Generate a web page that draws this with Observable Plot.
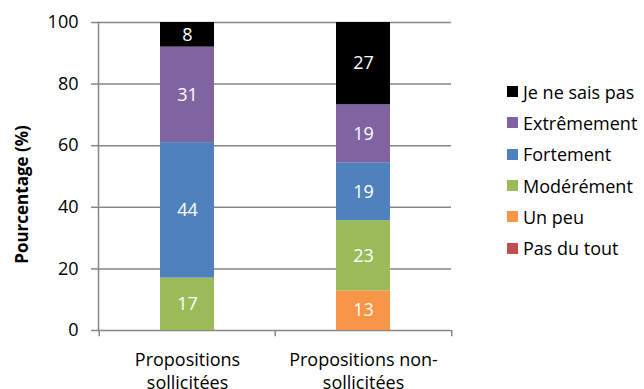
<!DOCTYPE html>
<html>
<head>
<meta charset="utf-8">
<script src="https://cdn.jsdelivr.net/npm/d3@7"></script>
<script src="https://cdn.jsdelivr.net/npm/@observablehq/plot@0.6"></script>
<style>
  body { margin: 0; background: #fff; }
  #chart { position: relative; width: 644px; height: 389px; overflow: hidden; font-family: "Open Sans", sans-serif; color: #000; }
  #chart svg { display: block; }
  .legend { position: absolute; left: 507px; top: 76px; }
  .item { display: flex; align-items: center; height: 31.3px; font-size: 18px; white-space: nowrap; }
  .sw { width: 11px; height: 11px; margin-right: 5px; flex: none; }
</style>
</head>
<body>
<div id="chart"></div>
<script>
// Proposal type (x) and agreement level (stack), in percent
const categories = ["Propositions sollicitées", "Propositions non-sollicitées"];
const tickLabels = ["Propositions\nsollicitées", "Propositions non-\nsollicitées"];
const levels = ["Pas du tout", "Un peu", "Modérément", "Fortement", "Extrêmement", "Je ne sais pas"];
const colors = ["#C0504D", "#F79646", "#9BBB59", "#4F81BD", "#8064A2", "#000000"];
const solicited = [0, 0, 17, 44, 31, 8];
const unsolicited = [0, 13, 23, 19, 19, 27];
const yTicks = [0, 20, 40, 60, 80, 100];

const series = [solicited, unsolicited];
const data = categories.flatMap((cat, i) =>
  levels.map((level, j) => ({cat, level, value: series[i][j]}))
);

const gridColor = "#868686";
const stackOpts = {x: "cat", y: "value", z: "level", order: levels, offset: "normalize"};
const halfStep = (644 - 98 - 193) / categories.length / 2;

const plot = Plot.plot({
  width: 644,
  height: 389,
  marginLeft: 98,
  marginRight: 193,
  marginTop: 22,
  marginBottom: 59,
  style: {fontFamily: "'Open Sans', sans-serif", fontSize: "18px", color: "#000", background: "#fff", overflow: "hidden"},
  x: {type: "band", domain: categories, paddingInner: 0.694, paddingOuter: 0.347},
  y: {domain: [0, 1]},
  color: {domain: levels, range: colors},
  marks: [
    Plot.ruleY(yTicks.map(v => v / 100), {stroke: gridColor, strokeWidth: 1.5}),
    Plot.barY(data, Plot.stackY({...stackOpts, fill: "level"})),
    Plot.text(data, Plot.stackY({
      ...stackOpts,
      filter: d => d.value > 0,
      text: d => String(d.value),
      fill: "white",
      fontSize: 18
    })),
    Plot.frame({anchor: "left", stroke: gridColor, strokeWidth: 1.5}),
    Plot.ruleX(categories, {x: d => d, y1: 0, y2: -0.02, dx: -halfStep, stroke: gridColor, strokeWidth: 1.5}),
    Plot.ruleX(categories.slice(-1), {x: d => d, y1: 0, y2: -0.02, dx: halfStep, stroke: gridColor, strokeWidth: 1.5}),
    Plot.axisY(yTicks.map(v => v / 100), {
      tickFormat: d => String(Math.round(d * 100)),
      tickSize: 7,
      tickPadding: 13,
      stroke: gridColor,
      strokeWidth: 1.5,
      label: null,
      fontSize: 18
    }),
    Plot.axisX({
      tickSize: 0,
      tickPadding: 19,
      tickFormat: d => tickLabels[categories.indexOf(d)],
      lineHeight: 1.28,
      label: null,
      fontSize: 18
    }),
    Plot.text(["Pourcentage (%)"], {
      frameAnchor: "left",
      textAnchor: "middle",
      rotate: -90,
      dx: -76,
      dy: 18,
      fontWeight: "bold",
      fontSize: 17
    })
  ]
});

const chart = document.getElementById("chart");
chart.appendChild(plot);

// Legend, top level first
const legend = document.createElement("div");
legend.className = "legend";
for (let j = levels.length - 1; j >= 0; j--) {
  const item = document.createElement("div");
  item.className = "item";
  const sw = document.createElement("span");
  sw.className = "sw";
  sw.style.background = colors[j];
  const label = document.createElement("span");
  label.textContent = levels[j];
  item.append(sw, label);
  legend.appendChild(item);
}
chart.appendChild(legend);
</script>
</body>
</html>
